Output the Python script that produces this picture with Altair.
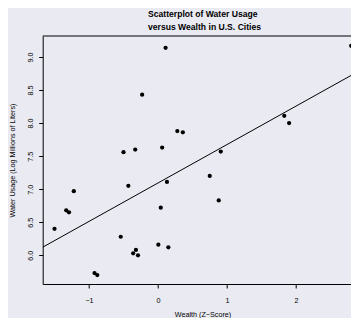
import altair as alt
import pandas as pd

# Data
wealth = [-1.50, -1.33, -1.29, -1.22, -0.92, -0.88, -0.54, -0.50, -0.43, -0.33,
          -0.36, -0.32, -0.29, 0.005, 0.04, 0.06, 0.13, 0.15, 0.28, 0.36,
          0.91, 0.75, 0.88, 1.83, 1.90, 0.11, 2.80, -0.23]
water = [6.40, 6.68, 6.65, 6.97, 5.73, 5.70, 6.28, 7.56, 7.05, 7.60,
         6.03, 6.08, 6.00, 6.16, 6.72, 7.63, 7.11, 6.12, 7.88, 7.86,
         7.57, 7.20, 6.83, 8.11, 8.00, 9.14, 9.17, 8.43]

x_ticks = [-1, 0, 1, 2]
y_ticks = [6.0, 6.5, 7.0, 7.5, 8.0, 8.5, 9.0]
x_domain = [-1.671, 2.797]
y_domain = [5.565, 9.318]

title_lines = ["Scatterplot of Water Usage", "versus Wealth in U.S. Cities"]
x_title = "Wealth (Z\u2212Score)"
y_title = "Water Usage (Log Millions of Liters)"

df = pd.DataFrame({"wealth": wealth, "water": water})

W, H = 308.3, 248
PL, PT, PR, PB = 34.7, 28, 0, 34
FONT = "Liberation Sans"
FS = 7.2

xs = alt.Scale(domain=x_domain, nice=False, zero=False)
ys = alt.Scale(domain=y_domain, nice=False, zero=False)

xax = alt.Axis(values=x_ticks, format="d", grid=False,
               domainColor="black", domainWidth=1, tickColor="black", tickWidth=1,
               tickSize=4, labelPadding=14, labelBaseline="alphabetic",
               labelFont=FONT, labelFontSize=FS, labelColor="black",
               title=x_title, titleFont=FONT, titleFontSize=FS, titleFontWeight="normal",
               titleColor="black", titleX=159.8, titleY=32, titleBaseline="alphabetic",
               titleAlign="center")
yax = alt.Axis(values=y_ticks, format=".1f", grid=False,
               domainColor="black", domainWidth=1, tickColor="black", tickWidth=1,
               tickSize=4, labelPadding=6.4, labelAngle=270, labelAlign="center",
               labelBaseline="alphabetic",
               labelFont=FONT, labelFontSize=FS, labelColor="black",
               title=y_title, titleFont=FONT, titleFontSize=FS, titleFontWeight="normal",
               titleColor="black", titleX=-28, titleY=124, titleAngle=270,
               titleBaseline="alphabetic", titleAlign="center")

enc_x = alt.X("wealth:Q", scale=xs, axis=xax)
enc_y = alt.Y("water:Q", scale=ys, axis=yax)

points = alt.Chart(df).mark_circle(size=18, color="black", opacity=1).encode(x=enc_x, y=enc_y)

fit = alt.Chart(df).transform_regression(
    "wealth", "water", extent=x_domain
).mark_line(color="black", strokeWidth=1, clip=True).encode(x=enc_x, y=enc_y)

top = alt.Chart(pd.DataFrame({"k": [0]})).mark_rule(color="black", strokeWidth=1).encode(
    x=alt.value(0), x2=alt.value(W), y=alt.value(0)
)

chart = alt.layer(fit, points, top).properties(
    width=W, height=H,
    padding={"left": PL, "top": PT, "right": PR, "bottom": PB},
    autosize=alt.AutoSizeParams(type="none"),
    background="#EAEAF2",
    title=alt.TitleParams(text=title_lines, font=FONT, fontSize=8.6, fontWeight="bold",
                          lineHeight=12.5, anchor="start", frame="group", offset=4,
                          dx=105.3, color="black"),
).configure_view(stroke=None)

chart.save("out.html", embed_options={"renderer": "svg", "actions": False})
